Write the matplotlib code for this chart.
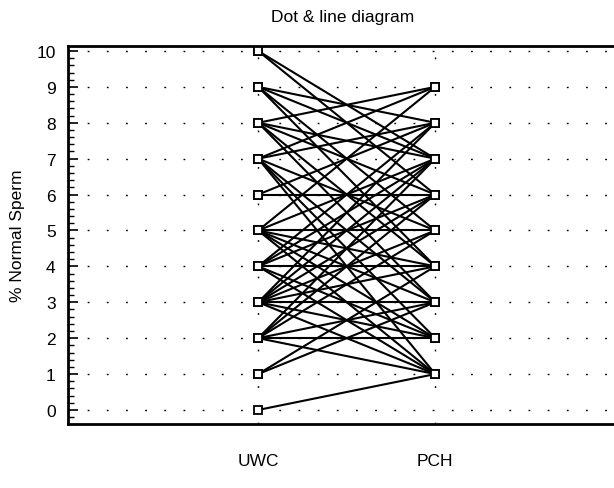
import numpy as np
import matplotlib
matplotlib.use('Agg')
import matplotlib.pyplot as plt
from matplotlib.ticker import MultipleLocator

plt.rcParams['font.family'] = ['Liberation Sans', 'DejaVu Sans']

# paired values, one entry per subject
uwc = [0, 1, 1, 2, 2, 2, 2, 2, 2,
       3, 3, 3, 3, 3, 3, 3, 3,
       4, 4, 4, 4, 4, 4,
       5, 5, 5, 5, 5, 5, 5,
       6, 6,
       7, 7, 7, 7, 7, 7,
       8, 8, 8, 8, 8,
       9, 9, 9, 9,
       10, 10]
pch = [1, 3, 4, 2, 1, 3, 5, 6, 7,
       3, 4, 5, 6, 7, 8, 1, 2,
       4, 6, 8, 7, 2, 1,
       5, 7, 9, 3, 1, 4, 2,
       6, 8,
       9, 8, 5, 3, 2, 1,
       9, 7, 6, 4, 3,
       8, 7, 5, 4,
       7, 6]
groups = ['UWC', 'PCH']
yticks = list(range(0, 11))

fig = plt.figure(figsize=(6.14, 4.89), dpi=100)
ax = fig.add_axes([0.111, 0.131, 0.895, 0.773])

# dotted grid
for y in yticks:
    ax.axhline(y, color='black', lw=1.0, ls=(0, (1.3, 12.5)), zorder=0)
for x in [1, 2]:
    ax.axvline(x, color='black', lw=1.0, ls=(0, (1.3, 25)), zorder=0)

for a, b in zip(uwc, pch):
    ax.plot([1, 2], [a, b], color='black', lw=1.5, zorder=2)
ax.plot([1] * len(uwc), uwc, ls='none', marker='s', ms=6, mfc='white',
        mec='black', mew=1.3, zorder=3)
ax.plot([2] * len(pch), pch, ls='none', marker='s', ms=6, mfc='white',
        mec='black', mew=1.3, zorder=3)

ax.set_xlim(-0.073, 3.03)
ax.set_ylim(-0.39, 10.14)
ax.set_xticks([1, 2])
ax.set_xticklabels(groups, fontsize=12.5)
ax.set_yticks(yticks)
ax.set_yticklabels([str(v) for v in yticks], fontsize=12.5)
ax.yaxis.set_minor_locator(MultipleLocator(0.2))
ax.tick_params(axis='x', length=0, pad=21)
ax.tick_params(axis='y', which='major', direction='in', length=7, width=1.2, pad=9)
ax.tick_params(axis='y', which='minor', direction='in', length=4, width=1.0)
for s in ['left', 'top', 'bottom', 'right']:
    ax.spines[s].set_linewidth(2.0)

ax.set_ylabel('% Normal Sperm', fontsize=12.5, labelpad=8)
ax.set_title('Dot & line diagram', fontsize=12.5, pad=18)

fig.savefig('out.png', dpi=100)
